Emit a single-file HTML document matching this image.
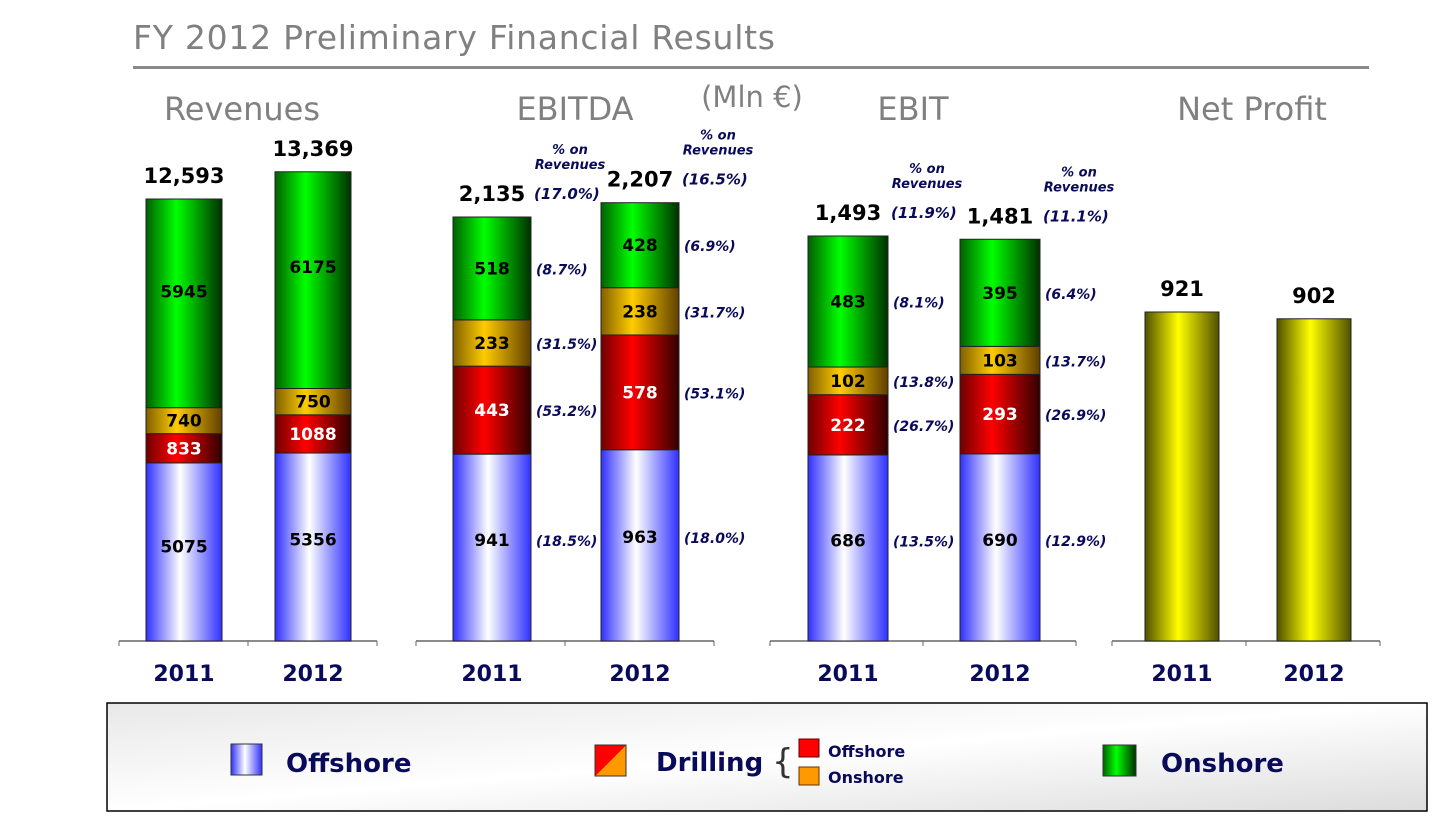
<!DOCTYPE html>
<html><head><meta charset="utf-8"><style>
body{margin:0;width:1456px;height:825px;background:#fff;overflow:hidden;font-family:"DejaVu Sans","Liberation Sans",sans-serif}
svg text{font-family:"DejaVu Sans","Liberation Sans",sans-serif}
</style></head><body>
<svg id="c" width="1456" height="825">
<defs>
<linearGradient id="gBlue" x1="0" x2="1"><stop offset="0" stop-color="#3030ff"/><stop offset="0.45" stop-color="#ffffff"/><stop offset="1" stop-color="#3030ff"/></linearGradient>
<linearGradient id="gRed" x1="0" x2="1"><stop offset="0" stop-color="#700000"/><stop offset="0.4" stop-color="#ff0000"/><stop offset="1" stop-color="#300000"/></linearGradient>
<linearGradient id="gOrange" x1="0" x2="1"><stop offset="0" stop-color="#806000"/><stop offset="0.4" stop-color="#ffcc00"/><stop offset="1" stop-color="#604000"/></linearGradient>
<linearGradient id="gGreen" x1="0" x2="1"><stop offset="0" stop-color="#006000"/><stop offset="0.4" stop-color="#00ff00"/><stop offset="1" stop-color="#003000"/></linearGradient>
<linearGradient id="gYellow" x1="0" x2="1"><stop offset="0" stop-color="#505000"/><stop offset="0.45" stop-color="#ffff00"/><stop offset="1" stop-color="#505000"/></linearGradient>
<linearGradient id="gLeg" x1="0" y1="0" x2="1" y2="1"><stop offset="0" stop-color="#e8e8e8"/><stop offset="0.5" stop-color="#ffffff"/><stop offset="1" stop-color="#dcdcdc"/></linearGradient>
<linearGradient id="gDrill" x1="0" y1="0" x2="1" y2="1"><stop offset="0.5" stop-color="#ff0000"/><stop offset="0.5" stop-color="#ff9900"/></linearGradient>
</defs>
<text x="133" y="49" font-size="33" fill="#808080" textLength="642">FY 2012 Preliminary Financial Results</text>
<rect x="133" y="66" width="1236" height="3" fill="#8a8a8a"/>
<text x="752" y="107" font-size="29" fill="#808080" text-anchor="middle">(Mln €)</text>
<g id="plots"></g>
<rect x="107" y="703" width="1320" height="108" fill="url(#gLeg)" stroke="#000" stroke-width="1.5"/>
<g>
<rect x="231" y="744" width="31" height="31" fill="url(#gBlue)" stroke="#333"/>
<text x="286" y="772" font-size="26" font-weight="bold" fill="#0a0a5a">Offshore</text></g>
<g>
<rect x="595" y="745" width="31" height="31" fill="url(#gDrill)" stroke="#333"/>
<text x="656" y="771" font-size="26" font-weight="bold" fill="#0a0a5a">Drilling</text>
<text x="772" y="773" font-size="34" fill="#333">{</text>
<rect x="799" y="739" width="20" height="18" fill="#ff0000" stroke="#600"/>
<text x="828" y="757" font-size="16" font-weight="bold" fill="#0a0a5a">Offshore</text>
<rect x="799" y="767" width="20" height="18" fill="#ff9900" stroke="#630"/>
<text x="828" y="783" font-size="16" font-weight="bold" fill="#0a0a5a">Onshore</text></g>
<g>
<rect x="1103" y="745" width="33" height="31" fill="url(#gGreen)" stroke="#333"/>
<text x="1161" y="772" font-size="26" font-weight="bold" fill="#0a0a5a">Onshore</text></g>
</svg>
<script>
const years = ["2011","2012"];
const panelTitles = ["Revenues","EBITDA","EBIT","Net Profit"];
const offshoreVals = [[5075,5356],[941,963],[686,690]];
const drillOffVals = [[833,1088],[443,578],[222,293]];
const drillOnVals = [[740,750],[233,238],[102,103]];
const onshoreVals = [[5945,6175],[518,428],[483,395]];
const totalLabels = [["12,593","13,369"],["2,135","2,207"],["1,493","1,481"],["921","902"]];
const netProfitVals = [921,902];
const pctOffshore = [null,["(18.5%)","(18.0%)"],["(13.5%)","(12.9%)"]];
const pctDrillOff = [null,["(53.2%)","(53.1%)"],["(26.7%)","(26.9%)"]];
const pctDrillOn = [null,["(31.5%)","(31.7%)"],["(13.8%)","(13.7%)"]];
const pctOnshore = [null,["(8.7%)","(6.9%)"],["(8.1%)","(6.4%)"]];
const pctTotal = [null,["(17.0%)","(16.5%)"],["(11.9%)","(11.1%)"]];

const NS="http://www.w3.org/2000/svg";
const g=document.getElementById('plots');
const baseY=641;
const panels=[
 {axis:[119,377],bars:[146,275],w:76,scale:442/12593,title:242},
 {axis:[416,714],bars:[453,601],w:78,scale:424/2135,title:575},
 {axis:[770,1076],bars:[808,960],w:80,scale:405/1493,title:913},
 {axis:[1112,1380],bars:[1145,1277],w:74,scale:329/921,title:1252}
];
function el(tag,attrs,parent){const e=document.createElementNS(NS,tag);for(const k in attrs)e.setAttribute(k,attrs[k]);(parent||g).appendChild(e);return e;}
function txt(x,y,s,size,fill,extra,parent){const t=el('text',Object.assign({x:x,y:y,'font-size':size,fill:fill,'font-weight':'bold','text-anchor':'middle'},extra||{}),parent);t.textContent=s;return t;}
const fills=['url(#gBlue)','url(#gRed)','url(#gOrange)','url(#gGreen)'];
const names=['offshore','drilling-offshore','drilling-onshore','onshore'];
const labelCol=['#000','#fff','#000','#000'];
panels.forEach((p,pi)=>{
  const y=v=>baseY-v*p.scale;
  const pg=el('g',{});
  
  
  const tt=txt(p.title,120,panelTitles[pi],32,'#808080',{'font-weight':'normal'},pg);
  
  
  const ax=el('line',{x1:p.axis[0],x2:p.axis[1],y1:baseY,y2:baseY,stroke:'#666','stroke-width':1.5},pg);
  
  
  const mid=(p.axis[0]+p.axis[1])/2;
  [p.axis[0],mid,p.axis[1]].forEach(x=>el('line',{x1:x,x2:x,y1:baseY,y2:baseY+5,stroke:'#666'},pg));
  years.forEach((yr,i)=>{
    const bx=p.bars[i], cx=bx+p.w/2;
    const yl=txt(cx,681,yr,22,'#0a0a5a',{},pg);
    
    
    let top;
    if(pi===3){
      const v=netProfitVals[i];top=y(v);
      const r=el('rect',{x:bx,y:top,width:p.w,height:baseY-top,fill:'url(#gYellow)',stroke:'#222'},pg);
      
      
    } else {
      const segs=[offshoreVals[pi][i],drillOffVals[pi][i],drillOnVals[pi][i],onshoreVals[pi][i]];
      const pcts=[pctOffshore,pctDrillOff,pctDrillOn,pctOnshore];
      let cum=0;
      segs.forEach((v,si)=>{
        const y0=y(cum),y1=y(cum+v);cum+=v;
        const r=el('rect',{x:bx,y:y1,width:p.w,height:y0-y1,fill:fills[si],stroke:'#222'},pg);
        
        
        const h=y0-y1;
        const cy=(y0+y1)/2+6-(h>150?Math.min(20,(h-150)*0.2):0);
        const sl=txt(cx,cy,String(v),17,labelCol[si],{},pg);
        
        
        if(pcts[si][pi]){
          const pl=txt(bx+p.w+5,cy,pcts[si][pi][i],14,'#0a0a5a',{'text-anchor':'start','font-style':'italic'},pg);
          
          
        }
      });
      top=y(cum);
    }
    const tl=txt(cx,top-16,totalLabels[pi][i],21,'#000',{},pg);
    
    
    if(pctTotal[pi]){
      const px=bx+p.w+3;
      const ptl=txt(px,top-18,pctTotal[pi][i],15,'#0a0a5a',{'text-anchor':'start','font-style':'italic'},pg);
      
      
      const hx=px+36;
      txt(hx,top-63,'% on',13,'#0a0a5a',{'font-style':'italic'},pg);
      txt(hx,top-48,'Revenues',13,'#0a0a5a',{'font-style':'italic'},pg);
    }
  });
});
</script>
</body></html>
